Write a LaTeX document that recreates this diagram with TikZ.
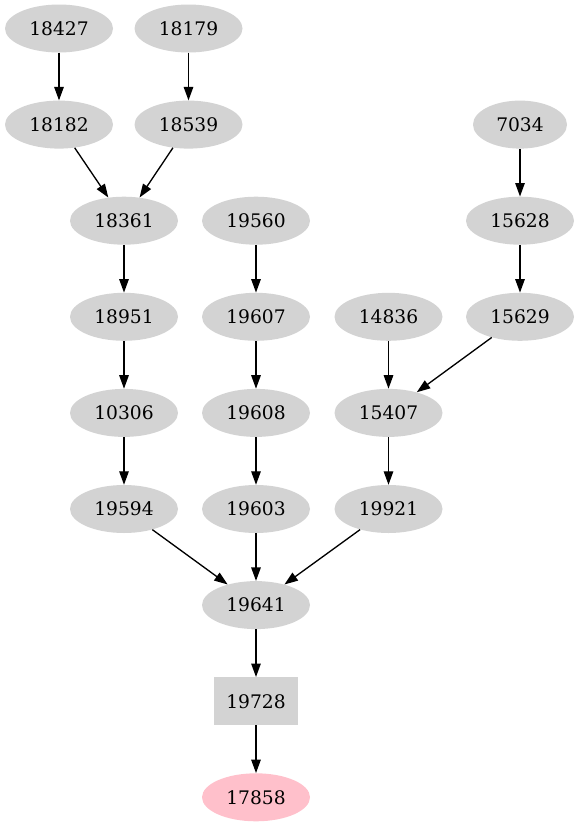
\documentclass[tikz,border=0pt]{standalone}
\usepackage{fontspec}
\setmainfont{DejaVu Serif}
\usetikzlibrary{arrows.meta,shapes.geometric}
\definecolor{nodegray}{RGB}{211,211,211}
\definecolor{nodepink}{RGB}{255,192,203}
\tikzset{
  gnode/.style={ellipse,fill=nodegray,inner sep=0pt,minimum width=108pt,minimum height=48pt,
    font=\fontsize{18.67}{22}\selectfont},
  gbox/.style={rectangle,fill=nodegray,inner sep=0pt,minimum width=84pt,minimum height=48pt,
    font=\fontsize{18.67}{22}\selectfont},
  gend/.style={gnode,fill=nodepink}
}
\begin{document}
\begin{tikzpicture}[x=1pt,y=-1pt]
\useasboundingbox (0,0) rectangle (579,827);
\node[gnode] (n18427) at (59,28.5) {18427};
\node[gnode] (n18179) at (188.5,28.5) {18179};
\node[gnode] (n18182) at (59,124.6) {18182};
\node[gnode] (n18539) at (188.5,124.6) {18539};
\node[gnode,minimum width=94pt] (n7034) at (520,124.6) {7034};
\node[gnode] (n18361) at (124,220.7) {18361};
\node[gnode] (n19560) at (256,220.7) {19560};
\node[gnode] (n15628) at (520,220.7) {15628};
\node[gnode] (n18951) at (124,316.8) {18951};
\node[gnode] (n19607) at (256,316.8) {19607};
\node[gnode] (n14836) at (388.5,316.8) {14836};
\node[gnode] (n15629) at (520,316.8) {15629};
\node[gnode] (n10306) at (124,412.9) {10306};
\node[gnode] (n19608) at (256,412.9) {19608};
\node[gnode] (n15407) at (388.5,412.9) {15407};
\node[gnode] (n19594) at (124,509) {19594};
\node[gnode] (n19603) at (256,509) {19603};
\node[gnode] (n19921) at (388.5,509) {19921};
\node[gnode] (n19641) at (256,605.1) {19641};
\node[gbox] (n19728) at (256,701.2) {19728};
\node[gend] (n17858) at (256,797.3) {17858};
\path[-{Triangle[length=13.5pt,width=9.5pt]},line width=1.33pt]
(n18427) edge (n18182)
(n18179) edge (n18539)
(n18182) edge (n18361)
(n18539) edge (n18361)
(n18361) edge (n18951)
(n18951) edge (n10306)
(n10306) edge (n19594)
(n19560) edge (n19607)
(n19607) edge (n19608)
(n19608) edge (n19603)
(n7034) edge (n15628)
(n15628) edge (n15629)
(n15629) edge (n15407)
(n14836) edge (n15407)
(n15407) edge (n19921)
(n19594) edge (n19641)
(n19603) edge (n19641)
(n19921) edge (n19641)
(n19641) edge (n19728)
(n19728) edge (n17858);
\end{tikzpicture}
\end{document}
